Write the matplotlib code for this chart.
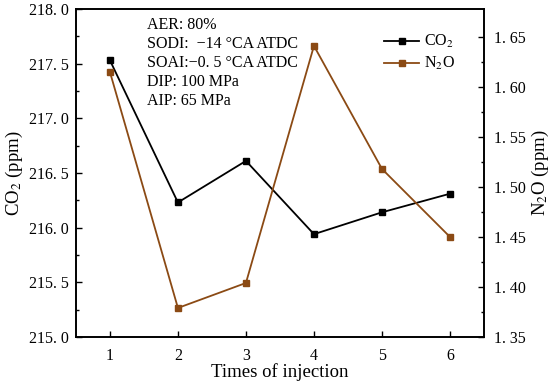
import matplotlib
matplotlib.use("Agg")
import matplotlib.pyplot as plt
from matplotlib.ticker import FixedLocator, FuncFormatter, MultipleLocator

plt.rcParams['font.family'] = ['Liberation Serif', 'DejaVu Serif']
plt.rcParams['mathtext.fontset'] = 'stix'

injections = [1, 2, 3, 4, 5, 6]
co2 = [217.53, 216.23, 216.61, 215.94, 216.14, 216.31]
n2o = [1.615, 1.379, 1.404, 1.641, 1.518, 1.450]
notes = ["AER: 80%", "SODI:  \u221214 \u00b0CA ATDC", "SOAI:\u22120. 5 \u00b0CA ATDC",
         "DIP: 100 MPa", "AIP: 65 MPa"]

fig = plt.figure(figsize=(5.5, 3.86), dpi=100)
ax = fig.add_axes([0.138, 0.127, 0.742, 0.85])
ax2 = ax.twinx()

brown = '#8B4A14'
l1, = ax.plot(injections, co2, color='black', marker='s', markersize=5, lw=1.3, label='CO$_2$')
l2, = ax2.plot(injections, n2o, color=brown, marker='s', markersize=5, lw=1.3, label='N$_2$O')

ax.set_xlim(0.5, 6.5)
ax.set_ylim(215.0, 218.0)
ax2.set_ylim(1.35, 1.678)
ax.set_xticks(injections)
ax.yaxis.set_major_locator(MultipleLocator(0.5))
ax.yaxis.set_minor_locator(MultipleLocator(0.25))
ax2.yaxis.set_major_locator(FixedLocator([1.35, 1.40, 1.45, 1.50, 1.55, 1.60, 1.65]))
ax2.yaxis.set_minor_locator(FixedLocator([1.375, 1.425, 1.475, 1.525, 1.575, 1.625]))

ax.yaxis.set_major_formatter(FuncFormatter(lambda v, p: f"{v:.1f}".replace('.', '. ')))
ax2.yaxis.set_major_formatter(FuncFormatter(lambda v, p: f"{v:.2f}".replace('.', '. ')))

ax.tick_params(axis='both', direction='in', labelsize=11.5, length=4, width=1, pad=5)
ax.tick_params(axis='x', pad=8)
ax.tick_params(axis='y', which='minor', direction='in', length=2.5, width=1)
ax.tick_params(axis='x', top=False)
ax2.tick_params(axis='y', which='both', direction='in', labelsize=11.5, width=1, pad=7)
ax2.tick_params(axis='y', which='major', length=4)
ax2.tick_params(axis='y', which='minor', length=2.5)

for a in (ax, ax2):
    for s in a.spines.values():
        s.set_linewidth(1.2)

ax.set_xlabel('Times of injection', fontsize=13.5, labelpad=-1)
ax.set_ylabel('CO$_2$ (ppm)', fontsize=13.5, labelpad=3)
ax2.set_ylabel('N$_2$O (ppm)', fontsize=13.5, labelpad=3)

for i, t in enumerate(notes):
    ax.text(0.175, 0.95 - i * 0.058, t, transform=ax.transAxes, fontsize=11.5,
            va='center', ha='left')

ax.legend(handles=[l1, l2], loc='upper right', bbox_to_anchor=(0.945, 0.945),
          frameon=False, fontsize=11.5, handlelength=2.2, handletextpad=0.3,
          labelspacing=0.3, borderaxespad=0)

fig.savefig('out.png', dpi=100)
